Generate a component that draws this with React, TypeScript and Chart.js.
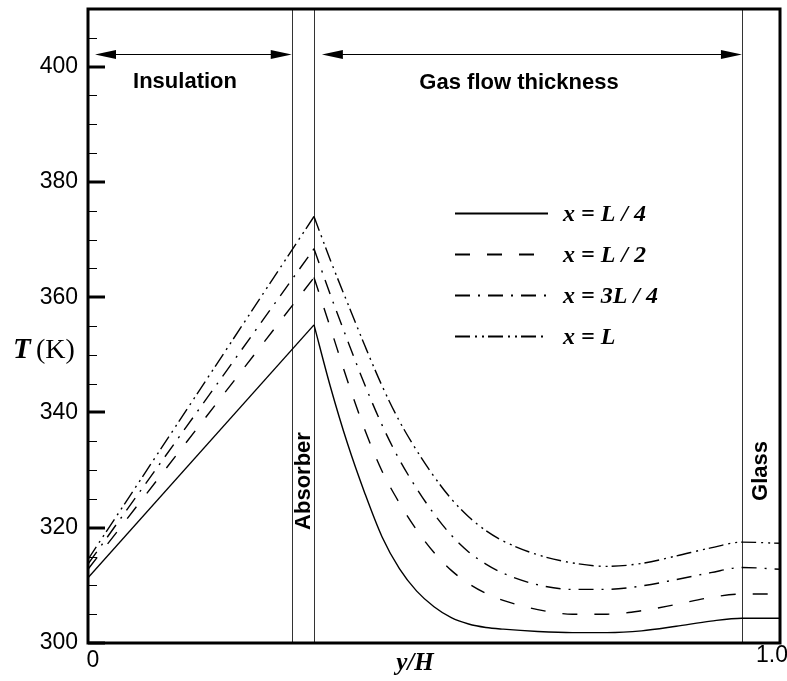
import React, { useEffect, useRef } from 'react';
import { Chart, registerables } from 'chart.js';
Chart.register(...registerables);

// ---- data ----
const seriesLabels = ['x = L / 4', 'x = L / 2', 'x = 3L / 4', 'x = L'];

const riseX = [0, 0.3266];
const riseQuarter = [311.3, 355.2];
const riseHalf = [312.8, 363.4];
const riseThreeQuarter = [313.7, 368.4];
const riseFull = [314.5, 374.0];

const decayX = [0.3266, 0.35, 0.375, 0.4, 0.425, 0.45, 0.475, 0.5, 0.525, 0.55, 0.575, 0.6, 0.65, 0.7, 0.75, 0.8, 0.85, 0.9, 0.945, 1.0];
const decayQuarter = [355.2, 344.6, 334.6, 326.0, 318.4, 312.9, 309.0, 306.3, 304.4, 303.3, 302.7, 302.4, 302.0, 301.8, 301.8, 302.1, 302.9, 303.8, 304.3, 304.3];
const decayHalf = [363.4, 354.8, 345.5, 337.0, 329.8, 324.3, 319.6, 315.7, 312.6, 310.3, 308.6, 307.4, 305.8, 305.0, 305.0, 305.6, 306.7, 307.9, 308.5, 308.5];
const decayThreeQuarter = [368.4, 360.5, 352.5, 344.8, 337.8, 331.8, 326.8, 322.4, 318.7, 315.8, 313.7, 312.1, 310.1, 309.3, 309.3, 309.9, 311.0, 312.2, 313.1, 312.8];
const decayFull = [374.0, 366.5, 359.0, 351.6, 344.6, 338.5, 333.4, 328.9, 325.0, 321.9, 319.5, 317.7, 315.3, 313.9, 313.3, 313.8, 315.1, 316.5, 317.5, 317.3];

const yTickValues = [300, 320, 340, 360, 380, 400];
const xTickValues = [0, 1];
const xTickLabels = ['0', '1.0'];

// layer boundaries (y/H)
const layerBounds = [0.2944, 0.3266, 0.945];
const arrowLevel = 402.2;
const insulationArrow = [0.0101, 0.2944];
const gasArrow = [0.338, 0.945];

// styles
const dashPatterns: number[][] = [[], [15, 17], [15, 8, 2, 8], [15, 5, 2, 5, 2, 4]];

const SANS = '"Liberation Sans", Arial, sans-serif';
const SERIF = '"Liberation Serif", "Times New Roman", serif';

function drawArrow(ctx: CanvasRenderingContext2D, x1: number, x2: number, y: number) {
  const hl = 21, hw = 4.5;
  ctx.save();
  ctx.strokeStyle = '#000';
  ctx.fillStyle = '#000';
  ctx.lineWidth = 1;
  ctx.beginPath();
  ctx.moveTo(x1 + hl - 2, y);
  ctx.lineTo(x2 - hl + 2, y);
  ctx.stroke();
  ctx.beginPath();
  ctx.moveTo(x1, y);
  ctx.lineTo(x1 + hl, y - hw);
  ctx.lineTo(x1 + hl, y + hw);
  ctx.closePath();
  ctx.fill();
  ctx.beginPath();
  ctx.moveTo(x2, y);
  ctx.lineTo(x2 - hl, y - hw);
  ctx.lineTo(x2 - hl, y + hw);
  ctx.closePath();
  ctx.fill();
  ctx.restore();
}

const overlay = {
  id: 'overlay',
  beforeDatasetsDraw(chart: any) {
    const { ctx, chartArea: a, scales } = chart;
    const xs = scales.x, ys = scales.y;
    ctx.save();
    // layer boundaries
    ctx.strokeStyle = '#333';
    ctx.lineWidth = 1;
    layerBounds.forEach((b) => {
      const px = Math.round(xs.getPixelForValue(b)) + 0.5;
      ctx.beginPath();
      ctx.moveTo(px, a.top);
      ctx.lineTo(px, a.bottom);
      ctx.stroke();
    });
    // arrows
    const ay = Math.round(ys.getPixelForValue(arrowLevel)) + 0.5;
    drawArrow(ctx, xs.getPixelForValue(insulationArrow[0]), xs.getPixelForValue(insulationArrow[1]), ay);
    drawArrow(ctx, xs.getPixelForValue(gasArrow[0]), xs.getPixelForValue(gasArrow[1]), ay);
    // region labels
    ctx.fillStyle = '#000';
    ctx.font = `bold 22px ${SANS}`;
    ctx.textAlign = 'center';
    ctx.textBaseline = 'middle';
    ctx.fillText('Insulation', a.left + 97, a.top + 73);
    ctx.fillText('Gas flow thickness', a.left + 431, a.top + 74);
    // rotated labels
    const absX = (xs.getPixelForValue(layerBounds[0]) + xs.getPixelForValue(layerBounds[1])) / 2;
    ctx.save();
    ctx.translate(absX + 1, a.top + 472);
    ctx.rotate(-Math.PI / 2);
    ctx.fillText('Absorber', 0, 0);
    ctx.restore();
    const glassX = (xs.getPixelForValue(layerBounds[2]) + a.right) / 2;
    ctx.save();
    ctx.translate(glassX, a.top + 462);
    ctx.rotate(-Math.PI / 2);
    ctx.fillText('Glass', 0, 0);
    ctx.restore();
    ctx.restore();
  },
  afterDatasetsDraw(chart: any) {
    const { ctx, chartArea: a, scales } = chart;
    const xs = scales.x, ys = scales.y;
    ctx.save();
    // frame
    ctx.strokeStyle = '#000';
    ctx.lineWidth = 3;
    ctx.strokeRect(a.left, a.top, a.right - a.left, a.bottom - a.top);
    // y ticks (inward)
    for (let v = 300; v < 410; v += 5) {
      const py = Math.round(ys.getPixelForValue(v));
      const major = yTickValues.includes(v);
      ctx.lineWidth = major ? 3 : 1;
      ctx.beginPath();
      ctx.moveTo(a.left, py + (major ? 0 : 0.5));
      ctx.lineTo(a.left + (major ? 17 : 9), py + (major ? 0 : 0.5));
      ctx.stroke();
    }
    // x tick labels
    ctx.fillStyle = '#000';
    ctx.font = `23px ${SANS}`;
    ctx.textAlign = 'center';
    ctx.textBaseline = 'middle';
    ctx.fillText(xTickLabels[0], xs.getPixelForValue(xTickValues[0]) + 5, a.bottom + 18);
    ctx.fillText(xTickLabels[1], xs.getPixelForValue(xTickValues[1]) - 8, a.bottom + 13);
    // axis titles
    ctx.font = `bold italic 25px ${SERIF}`;
    ctx.fillText('y/H', (a.left + a.right) / 2 - 19, a.bottom + 21);
    ctx.textAlign = 'left';
    ctx.textBaseline = 'alphabetic';
    ctx.font = `bold italic 29px ${SERIF}`;
    ctx.fillText('T', 13, 358);
    ctx.font = `28px ${SERIF}`;
    ctx.fillText('(K)', 36, 358);
    // legend
    ctx.strokeStyle = '#000';
    ctx.lineWidth = 1.8;
    ctx.font = `bold italic 24px ${SERIF}`;
    ctx.textBaseline = 'middle';
    seriesLabels.forEach((lab, i) => {
      const ly = Math.round(a.top + 204 + i * 41) + 0.5;
      ctx.setLineDash(dashPatterns[i]);
      ctx.beginPath();
      ctx.moveTo(a.left + 367, ly);
      ctx.lineTo(a.left + 460, ly);
      ctx.stroke();
      ctx.setLineDash([]);
      ctx.fillText(lab, a.left + 475, ly + 1);
    });
    ctx.restore();
  },
};

function line(xsArr: number[], ysArr: number[], dash: number[], smooth: boolean) {
  return {
    data: xsArr.map((x, i) => ({ x, y: ysArr[i] })),
    borderColor: '#000',
    borderWidth: 1.4,
    borderDash: dash,
    pointRadius: 0,
    fill: false,
    tension: 0,
    cubicInterpolationMode: smooth ? 'monotone' : 'default',
  };
}

export default function App() {
  const ref = useRef<HTMLCanvasElement>(null);
  useEffect(() => {
    const canvas = ref.current;
    if (!canvas) return;
    const rises = [riseQuarter, riseHalf, riseThreeQuarter, riseFull];
    const decays = [decayQuarter, decayHalf, decayThreeQuarter, decayFull];
    const datasets: any[] = [];
    rises.forEach((r, i) => datasets.push({ label: seriesLabels[i] + ' rise', ...line(riseX, r, dashPatterns[i], false) }));
    decays.forEach((d, i) => datasets.push({ label: seriesLabels[i], ...line(decayX, d, dashPatterns[i], true) }));
    const chart = new Chart(canvas, {
      type: 'line',
      data: { datasets },
      options: {
        responsive: false,
        animation: false,
        layout: { padding: { left: 0, right: 7, top: 9, bottom: 38 } },
        plugins: { legend: { display: false }, tooltip: { enabled: false } },
        scales: {
          x: { type: 'linear', min: 0, max: 1, display: false },
          y: {
            type: 'linear',
            min: 300,
            max: 410,
            afterBuildTicks: (s: any) => { s.ticks = yTickValues.map((v) => ({ value: v })); },
            afterFit: (s: any) => { s.width = 88; s.paddingTop = 0; s.paddingBottom = 0; },
            grid: { display: false, drawTicks: false },
            border: { display: false },
            ticks: { color: '#000', padding: 10, font: { family: SANS, size: 23 } },
          },
        },
      } as any,
      plugins: [overlay],
    });
    return () => chart.destroy();
  }, []);
  return (
    <div style={{ position: 'absolute', left: 0, top: 0, width: 787, height: 681, background: '#fff' }}>
      <canvas ref={ref} width={787} height={681} style={{ display: 'block' }} />
    </div>
  );
}
